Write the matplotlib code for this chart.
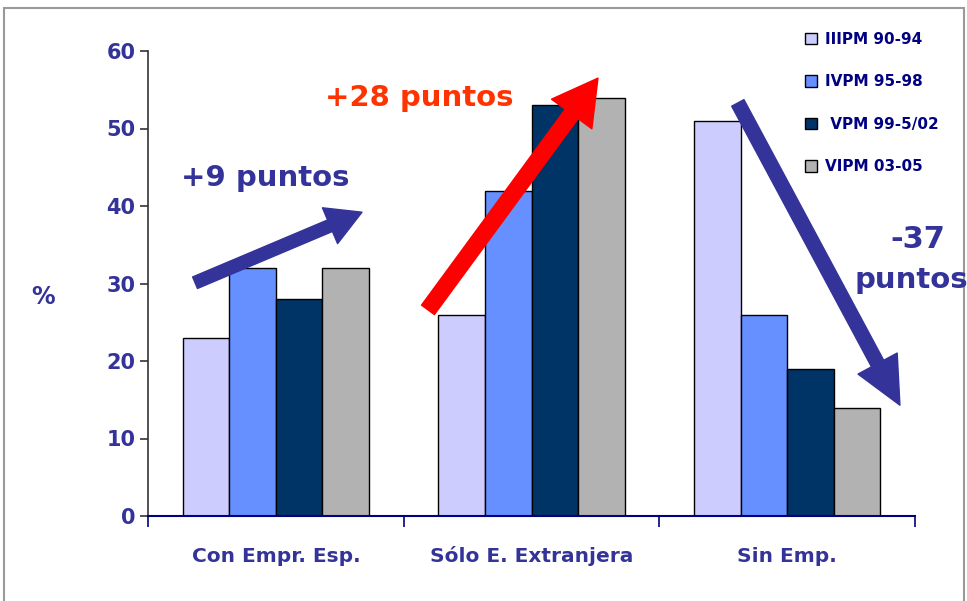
import matplotlib
matplotlib.use("Agg")
import matplotlib.pyplot as plt
import numpy as np
from matplotlib.patches import Rectangle

# data
categories = ["Con Empr. Esp.", "Sólo E. Extranjera", "Sin Emp."]
series = ["IIIPM 90-94", "IVPM 95-98", " VPM 99-5/02", "VIPM 03-05"]
iiipm = [23, 26, 51]
ivpm = [32, 42, 26]
vpm = [28, 53, 19]
vipm = [32, 54, 14]
values = [iiipm, ivpm, vpm, vipm]
colors = ["#CCCCFF", "#6690FF", "#003366", "#B2B2B2"]

txt = "#333399"
plt.rcParams['font.family'] = ['DejaVu Sans']
plt.rcParams['font.weight'] = 'bold'

fig = plt.figure(figsize=(9.67, 6.01), dpi=100)
ax = fig.add_axes([148/967, 85/601, 767/967, 465/601])

x = np.arange(len(categories))
w = 0.182
for i, (vals, c) in enumerate(zip(values, colors)):
    ax.bar(x + (i - 1.5) * w, vals, w, color=c, edgecolor="black",
           linewidth=1.0, label=series[i], zorder=2)

ax.set_xlim(-0.5, 2.5)
ax.set_ylim(0, 60)
ax.set_yticks(range(0, 61, 10))
ax.set_xticks([-0.5, 0.5, 1.5, 2.5])
ax.set_xticklabels([])
ax.tick_params(axis='x', direction='out', length=8, width=1.2, colors="#000080")
ax.tick_params(axis='y', direction='out', length=6, width=1.2, colors="#333333",
               labelcolor=txt, labelsize=15, pad=3)
for s in ["top", "right"]:
    ax.spines[s].set_visible(False)
ax.spines["left"].set_color("#333333")
ax.spines["left"].set_linewidth(1.2)
ax.spines["bottom"].set_color("#000080")
ax.spines["bottom"].set_linewidth(1.5)

for xi, name in zip(x, categories):
    ax.text(xi, -5.2, name, ha='center', va='center', fontsize=14.5,
            color=txt, fontweight='bold')

fig.text(43/967, 1 - 297/601, "%", fontsize=17, color=txt,
         fontweight='bold', ha='center', va='center')

# trend arrows
def arrow(x0, y0, x1, y1, col, tail, hw, hl):
    ax.annotate("", xy=(x1, y1), xytext=(x0, y0), annotation_clip=False,
                arrowprops=dict(arrowstyle="simple,head_width=%g,head_length=%g,tail_width=%g" % (hw, hl, tail),
                                mutation_scale=1, color=col, shrinkA=0, shrinkB=0),
                zorder=5)

arrow(-0.316, 30.1, 0.337, 39.2, "#333399", 9, 28, 25)
arrow(0.595, 26.6, 1.26, 56.5, "#FF0000", 11.5, 36, 32)
arrow(1.807, 53.3, 2.441, 14.3, "#333399", 10, 32, 34)

fig.text(265/967, 1 - 178/601, "+9 puntos", fontsize=21, color=txt,
         fontweight='bold', ha='center', va='center')
fig.text(419/967, 1 - 98/601, "+28 puntos", fontsize=21, color="#FF3300",
         fontweight='bold', ha='center', va='center')
fig.text(918/967, 1 - 240/601, "-37", fontsize=22, color=txt,
         fontweight='bold', ha='center', va='center')
fig.text(911/967, 1 - 280/601, "puntos", fontsize=21, color=txt,
         fontweight='bold', ha='center', va='center')

leg = ax.legend(loc='upper left', bbox_to_anchor=(791/967, 1 - 18/601),
                bbox_transform=fig.transFigure, frameon=False, fontsize=11,
                labelspacing=1.8, handlelength=0.8, handleheight=0.8,
                handletextpad=0.5)
for t in leg.get_texts():
    t.set_color("#000080")

fig.patches.append(Rectangle((4/967, -0.05), 960/967, 1.05 - 8/601,
                             transform=fig.transFigure, fill=False,
                             edgecolor="#999999", linewidth=1.5))

fig.savefig("out.png", dpi=100)
